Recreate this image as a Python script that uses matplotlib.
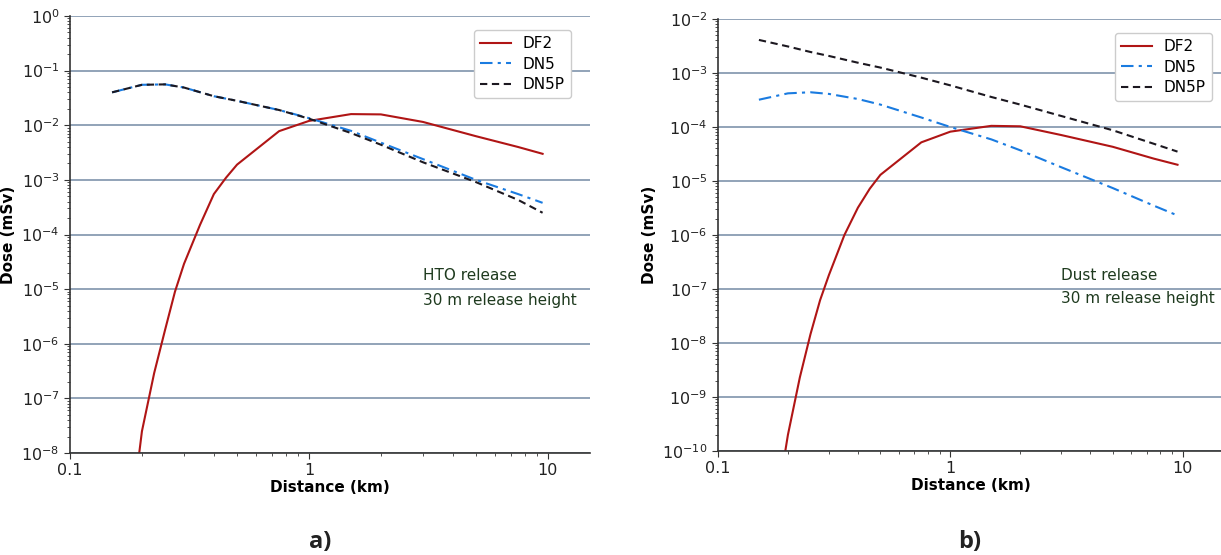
import numpy as np
import matplotlib
matplotlib.use("Agg")
import matplotlib.pyplot as plt
from matplotlib.ticker import LogLocator, FixedLocator, FixedFormatter, NullFormatter

matplotlib.rcParams['font.family'] = 'DejaVu Sans'

# distances (km)
dist = [0.15, 0.2, 0.225, 0.25, 0.275, 0.3, 0.35, 0.4, 0.45, 0.5, 0.75, 1.0, 1.5, 2.0, 3.0, 5.0, 7.5, 9.5]
dist_n = [0.15, 0.2, 0.25, 0.3, 0.4, 0.5, 0.75, 1.0, 1.5, 2.0, 3.0, 5.0, 7.5, 9.5]

# a) HTO release
hto_df2 = [1e-12, 2.5e-8, 2.9e-7, 1.8e-6, 9e-6, 2.9e-5, 1.5e-4, 5.5e-4, 1.1e-3, 1.9e-3,
           7.8e-3, 1.2e-2, 1.6e-2, 1.58e-2, 1.15e-2, 6.3e-3, 4.0e-3, 3.0e-3]
hto_dn5 = [0.040, 0.055, 0.056, 0.049, 0.034, 0.028, 0.019, 0.0135, 7.9e-3, 4.8e-3,
           2.4e-3, 1.0e-3, 5.5e-4, 3.8e-4]
hto_dn5p = [0.040, 0.055, 0.056, 0.049, 0.034, 0.028, 0.019, 0.0132, 7.2e-3, 4.4e-3,
            2.1e-3, 9.1e-4, 4.3e-4, 2.5e-4]

# b) Dust release
dust_df2 = [1e-13, 2e-10, 2.3e-9, 1.45e-8, 6.2e-8, 1.8e-7, 1.0e-6, 3.2e-6, 7.2e-6, 1.3e-5,
            5.2e-5, 8.2e-5, 1.05e-4, 1.03e-4, 7.1e-5, 4.3e-5, 2.6e-5, 2.0e-5]
dust_dn5 = [3.2e-4, 4.2e-4, 4.4e-4, 4.1e-4, 3.3e-4, 2.6e-4, 1.5e-4, 1.0e-4, 5.9e-5, 3.7e-5,
            1.8e-5, 7.4e-6, 3.5e-6, 2.3e-6]
dust_dn5p = [4.1e-3, 3.1e-3, 2.45e-3, 2.07e-3, 1.55e-3, 1.26e-3, 8.2e-4, 5.9e-4, 3.6e-4, 2.6e-4,
             1.6e-4, 8.7e-5, 4.9e-5, 3.5e-5]

x_ticks = [0.1, 1, 10]
x_ticklabels = ["0.1", "1", "10"]

RED = '#b01515'
BLUE = '#1a7be0'
BLACK = '#1c1820'
GRID = '#7f93ab'
TXT = '#1e3a1e'


def dose_panel(ax, df2, dn5, dn5p, ylim, notes, legend_anchor):
    ax.plot(dist, df2, color=RED, linewidth=1.5, label='DF2')
    ax.plot(dist_n, dn5, color=BLUE, linewidth=1.5, linestyle=(0, (6, 2.5, 1.5, 2.5)), label='DN5')
    ax.plot(dist_n, dn5p, color=BLACK, linewidth=1.5, linestyle=(0, (3.5, 2.2)), label='DN5P')
    ax.set_xscale('log')
    ax.set_yscale('log')
    ax.set_xlim(0.1, 15)
    ax.set_ylim(ylim)

    ax.xaxis.set_major_locator(FixedLocator(x_ticks))
    ax.xaxis.set_major_formatter(FixedFormatter(x_ticklabels))
    ax.xaxis.set_minor_locator(LogLocator(base=10, subs=np.arange(2, 10)))
    ax.xaxis.set_minor_formatter(NullFormatter())
    ax.yaxis.set_major_locator(LogLocator(base=10, numticks=20))
    ax.yaxis.set_minor_locator(LogLocator(base=10, subs=np.arange(2, 10), numticks=20))
    ax.yaxis.set_minor_formatter(NullFormatter())
    ax.tick_params(which='major', labelsize=11.5, length=4, color='#333333', labelcolor='#222222')
    ax.tick_params(which='minor', length=2, color='#333333')

    ax.grid(True, axis='y', which='major', color=GRID, linewidth=1.2)
    ax.set_axisbelow(True)
    for side in ['top', 'right']:
        ax.spines[side].set_visible(False)
    for side in ['left', 'bottom']:
        ax.spines[side].set_color('#333333')
        ax.spines[side].set_linewidth(1.2)

    ax.set_xlabel('Distance (km)', fontsize=11, fontweight='bold', labelpad=1)
    ax.set_ylabel('Dose (mSv)', fontsize=11, fontweight='bold')

    ax.text(0.679, notes[1], notes[0], transform=ax.transAxes, fontsize=11,
            color=TXT, va='center', ha='left')
    ax.text(0.679, notes[3], notes[2], transform=ax.transAxes, fontsize=11,
            color=TXT, va='center', ha='left')

    leg = ax.legend(loc='upper right', bbox_to_anchor=legend_anchor, fontsize=11,
                    handlelength=2.0, framealpha=1, borderpad=0.4, labelspacing=0.35)
    leg.get_frame().set_edgecolor('#cccccc')


fig = plt.figure(figsize=(12.21, 5.55), dpi=100)
ax1 = fig.add_axes([70 / 1221, 102 / 555, 520 / 1221, 437 / 555])
ax2 = fig.add_axes([718 / 1221, 104 / 555, 505.6 / 1221, 432 / 555])

dose_panel(ax1, hto_df2, hto_dn5, hto_dn5p, (1e-8, 1),
           ['HTO release', 0.407, '30 m release height', 0.348], (0.978, 0.985))
dose_panel(ax2, dust_df2, dust_dn5, dust_dn5p, (1e-10, 1e-2),
           ['Dust release', 0.407, '30 m release height', 0.354], (0.992, 0.985))

fig.text(320 / 1221, 1 - 542 / 555, 'a)', fontsize=17, fontweight='bold',
         family='Open Sans', ha='center', va='center', color='#222222')
fig.text(970 / 1221, 1 - 542 / 555, 'b)', fontsize=17, fontweight='bold',
         family='Open Sans', ha='center', va='center', color='#222222')

fig.savefig('out.png', dpi=100)
